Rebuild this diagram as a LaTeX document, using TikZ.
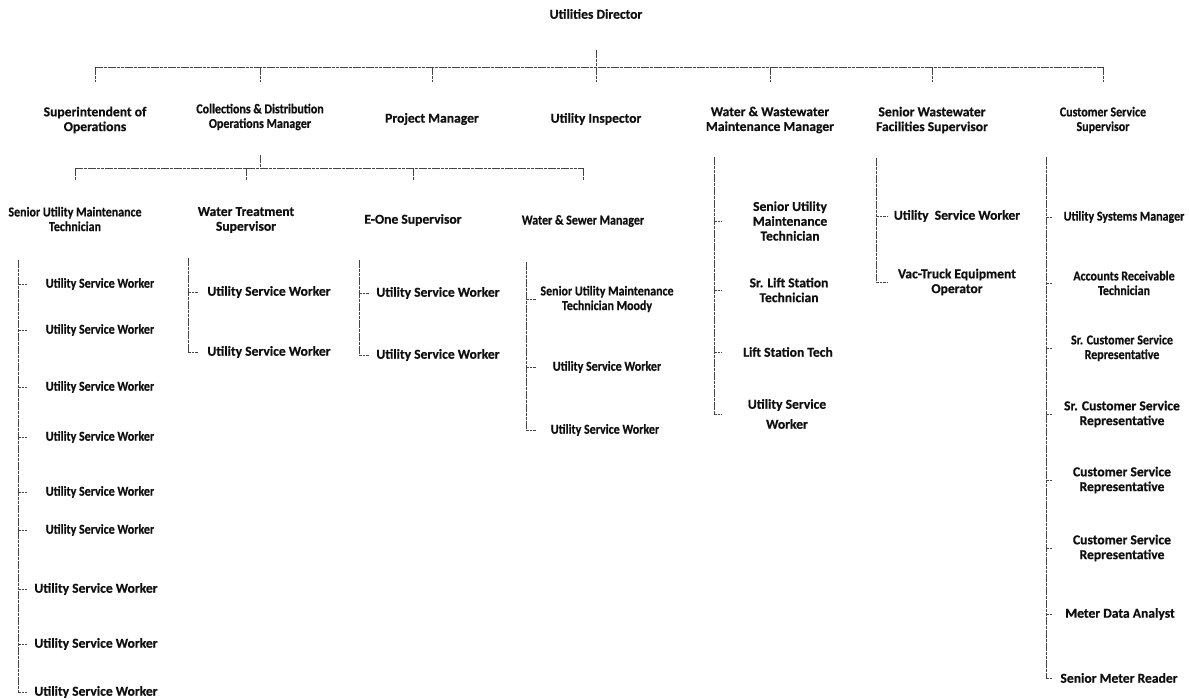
\documentclass[tikz,border=0pt]{standalone}
\usepackage{fontspec}
\setmainfont{Carlito}[FakeBold=0.6]
\newfontfamily\narrowfont{Carlito}[FakeStretch=0.88, FakeBold=0.6]
\usetikzlibrary{positioning, calc}
\definecolor{ChartInk}{HTML}{101010}
\definecolor{ChartLine}{HTML}{444444}

\begin{document}
\begin{tikzpicture}[
    x=0.5pt, y=-0.5pt,
    rolebig/.style={font=\fontsize{6.8}{7.4}\selectfont\bfseries, text=ChartInk,
                    align=center, inner sep=1pt},
    role/.style={rolebig, font=\narrowfont\fontsize{6.8}{7.3}\selectfont\bfseries},
    bus/.style={line width=0.4pt, ChartLine, dash pattern=on 1.8pt off 0.35pt},
    stub/.style={bus, dash pattern=on 1.4pt off 0.4pt}
]
  \useasboundingbox (0,0) rectangle (1189,700);

  % Director
  \node[rolebig] (dir) at (596,14) {Utilities Director};
  \coordinate (dirstem) at (596,50);
  \coordinate (hub) at (596,67);

  % First level
  \node[rolebig] (supt) at (95,120)  {Superintendent of\\Operations};
  \node[role]    (cdom) at (260,117) {Collections \& Distribution\\Operations Manager};
  \node[rolebig] (pm)   at (432,119) {Project Manager};
  \node[rolebig] (ui)   at (596,119) {Utility Inspector};
  \node[rolebig] (wwmm) at (770,120) {Water \& Wastewater\\Maintenance Manager};
  \node[rolebig] (swfs) at (932,120) {Senior Wastewater\\Facilities Supervisor};
  \node[role]    (css)  at (1103,120) {Customer Service\\Supervisor};

  \draw[bus] (dirstem) -- (hub);
  \draw[bus] (supt |- hub) -- (css |- hub);
  \foreach \n in {supt,cdom,pm,ui,wwmm,swfs,css}{
    \draw[bus] (\n |- hub) -- ++(0,15);
  }

  % Second level
  \node[role]    (sumt) at (75,219)  {Senior Utility Maintenance\\Technician};
  \node[rolebig] (wts)  at (246,220) {Water Treatment\\Supervisor};
  \node[rolebig] (eone) at (413,220) {E-One Supervisor};
  \node[role]    (wsm)  at (583,221) {Water \& Sewer Manager};
  \coordinate (cdstem) at (260,155);
  \coordinate (hub2) at (260,168);

  \draw[bus] (cdstem) -- (hub2);
  \draw[bus] (sumt |- hub2) -- (wsm |- hub2);
  \foreach \n in {sumt,wts,eone,wsm}{
    \draw[bus] (\n |- hub2) -- ++(0,12);
  }

  % Senior Utility Maintenance Technician staff
  \coordinate (barA) at (18,260);
  \coordinate (barAend) at (18,692);
  \draw[bus] (barA) -- (barAend);
  \foreach \y [count=\i] in {284,330,387,437,492,530}{
    \node[role] (usA\i) at (100,\y) {Utility Service Worker};
    \draw[stub] (barA |- usA\i) -- ++(9,0);
  }
  \foreach \y [count=\i from 7] in {589,644,692}{
    \node[rolebig] (usA\i) at (96,\y) {Utility Service Worker};
    \draw[stub] (barA |- usA\i) -- ++(9,0);
  }

  % Water Treatment Supervisor staff
  \coordinate (barB) at (188,258);
  \coordinate (barBend) at (188,352);
  \draw[bus] (barB) -- (barBend);
  \foreach \y [count=\i] in {292,352}{
    \node[rolebig] (usB\i) at (269,\y) {Utility Service Worker};
    \draw[stub] (barB |- usB\i) -- ++(10,0);
  }

  % E-One Supervisor staff
  \coordinate (barC) at (359,260);
  \coordinate (barCend) at (359,355);
  \draw[bus] (barC) -- (barCend);
  \foreach \y [count=\i] in {293,355}{
    \node[rolebig] (usC\i) at (438,\y) {Utility Service Worker};
    \draw[stub] (barC |- usC\i) -- ++(10,0);
  }

  % Water & Sewer Manager staff
  \coordinate (barD) at (526,262);
  \coordinate (barDend) at (526,430);
  \node[role] (sumtD) at (607,299) {Senior Utility Maintenance\\Technician Moody};
  \node[role] (usD1)  at (607,367) {Utility Service Worker};
  \node[role] (usD2)  at (605,430) {Utility Service Worker};
  \draw[bus] (barD) -- (barDend);
  \foreach \n in {sumtD,usD1,usD2}{
    \draw[stub] (barD |- \n) -- ++(10,0);
  }

  % Water & Wastewater Maintenance Manager staff
  \coordinate (barE) at (714,157);
  \coordinate (barEend) at (714,414);
  \node[rolebig] (sumtE) at (790,221) {Senior Utility\\Maintenance\\Technician};
  \node[rolebig] (slst)  at (789,290) {Sr. Lift Station\\Technician};
  \node[rolebig] (lst)   at (788,352) {Lift Station Tech};
  \node[rolebig] (usE)   at (787,414) {Utility Service\\[2.6pt]Worker};
  \draw[bus] (barE) -- (barEend);
  \foreach \n in {sumtE,slst,lst,usE}{
    \draw[stub] (barE |- \n) -- ++(8,0);
  }

  % Senior Wastewater Facilities Supervisor staff
  \coordinate (barF) at (876,158);
  \coordinate (barFend) at (876,281);
  \node[rolebig] (usF)  at (957,216) {Utility\ \ Service Worker};
  \node[rolebig] (vteo) at (957,282) {Vac-Truck Equipment\\Operator};
  \draw[bus] (barF) -- (barFend);
  \foreach \n in {usF,vteo}{
    \draw[stub] (barF |- \n) -- ++(12,0);
  }

  % Customer Service Supervisor staff
  \coordinate (barG) at (1046,157);
  \coordinate (barGend) at (1046,678);
  \node[role]    (usm)  at (1124,217) {Utility Systems Manager};
  \node[role]    (art)  at (1124,283) {Accounts Receivable\\Technician};
  \node[role]    (scs1) at (1122,348) {Sr. Customer Service\\Representative};
  \node[rolebig] (scs2) at (1122,414) {Sr. Customer Service\\Representative};
  \node[rolebig] (csr1) at (1122,480) {Customer Service\\Representative};
  \node[rolebig] (csr2) at (1122,548) {Customer Service\\Representative};
  \node[rolebig] (mda)  at (1120,614) {Meter Data Analyst};
  \node[rolebig] (smr)  at (1119,678) {Senior Meter Reader};
  \draw[bus] (barG) -- (barGend);
  \foreach \n in {usm,art,scs1,scs2,csr1,csr2,mda,smr}{
    \draw[stub] (barG |- \n) -- ++(7,0);
  }
\end{tikzpicture}
\end{document}
